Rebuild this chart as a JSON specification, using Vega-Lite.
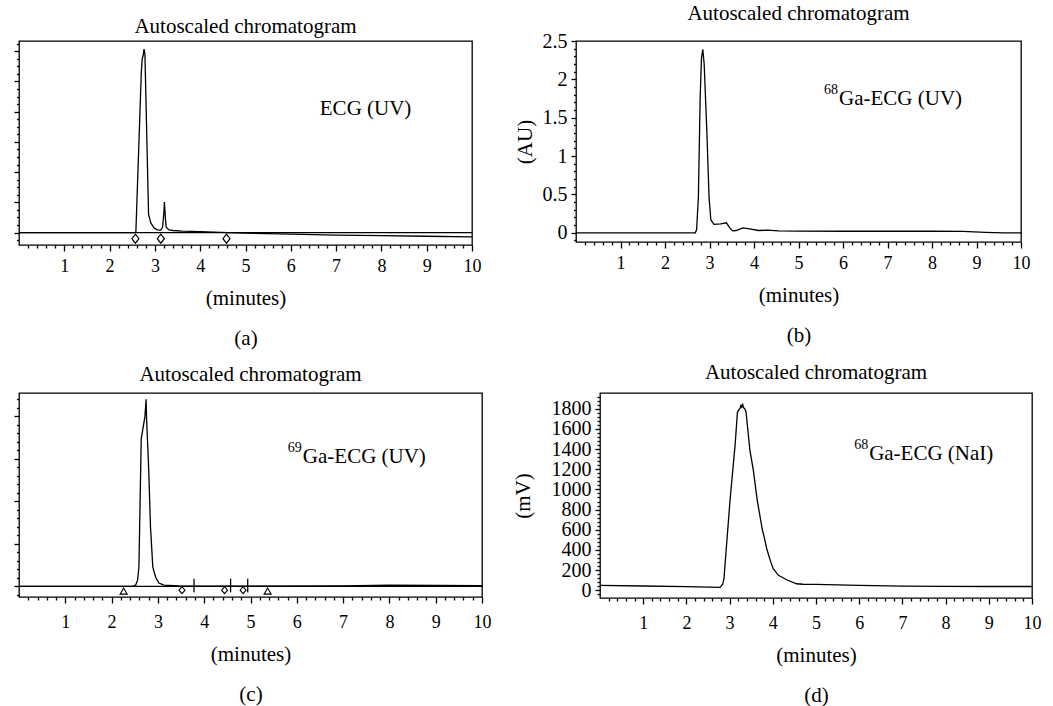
{
  "$schema": "https://vega.github.io/schema/vega-lite/v6.json",
  "background": "white",
  "padding": {"left": 12, "top": 2, "right": 0, "bottom": 0},
  "config": {
    "font": "Liberation Serif",
    "view": {"stroke": "black", "strokeWidth": 1.3},
    "axis": {
      "labelFont": "Liberation Serif", "labelFontSize": 18, "labelColor": "black",
      "titleFont": "Liberation Serif", "titleFontSize": 21, "titleFontWeight": "normal", "titleColor": "black",
      "titleLineHeight": 40,
      "tickColor": "black", "tickWidth": 1.3, "domain": false, "grid": false,
      "labelPadding": 6, "labelFlush": false, "labelOverlap": false, "titlePadding": 12
    },
    "title": {"font": "Liberation Serif", "fontSize": 21, "fontWeight": "normal", "color": "black", "offset": 8},
    "text": {"font": "Liberation Serif", "color": "black"}
  },
  "datasets": {
    "a": [
      {"t": 0, "v": 0}, {"t": 2.55, "v": 0}, {"t": 2.58, "v": 0.02}, {"t": 2.70, "v": 5.3}, {"t": 2.72, "v": 5.75},
      {"t": 2.74, "v": 5.85}, {"t": 2.76, "v": 6.07}, {"t": 2.78, "v": 5.9}, {"t": 2.86, "v": 0.6}, {"t": 2.91, "v": 0.32},
      {"t": 2.98, "v": 0.16}, {"t": 3.05, "v": 0.09}, {"t": 3.13, "v": 0.08}, {"t": 3.17, "v": 0.18}, {"t": 3.20, "v": 0.7},
      {"t": 3.21, "v": 1.01}, {"t": 3.23, "v": 0.5}, {"t": 3.25, "v": 0.18}, {"t": 3.31, "v": 0.09}, {"t": 3.4, "v": 0.07},
      {"t": 3.6, "v": 0.05}, {"t": 4.0, "v": 0.03}, {"t": 4.6, "v": 0.0}, {"t": 5, "v": -0.02}, {"t": 6, "v": -0.05},
      {"t": 7, "v": -0.08}, {"t": 8, "v": -0.1}, {"t": 9, "v": -0.12}, {"t": 10, "v": -0.14}
    ],
    "a_marks": [{"t": 2.57, "v": -0.2}, {"t": 3.13, "v": -0.2}, {"t": 4.58, "v": -0.2}],
    "b": [
      {"t": 0, "v": 0}, {"t": 2.68, "v": 0}, {"t": 2.71, "v": 0.04}, {"t": 2.75, "v": 0.46}, {"t": 2.79, "v": 1.76},
      {"t": 2.82, "v": 2.28}, {"t": 2.85, "v": 2.39}, {"t": 2.88, "v": 2.2}, {"t": 2.94, "v": 1.33}, {"t": 2.99, "v": 0.46},
      {"t": 3.03, "v": 0.17}, {"t": 3.1, "v": 0.11}, {"t": 3.25, "v": 0.115}, {"t": 3.38, "v": 0.13}, {"t": 3.46, "v": 0.06},
      {"t": 3.52, "v": 0.025}, {"t": 3.6, "v": 0.03}, {"t": 3.75, "v": 0.065}, {"t": 3.9, "v": 0.05}, {"t": 4.1, "v": 0.03},
      {"t": 4.3, "v": 0.035}, {"t": 4.55, "v": 0.025}, {"t": 5, "v": 0.022}, {"t": 6, "v": 0.02}, {"t": 7, "v": 0.02},
      {"t": 8, "v": 0.02}, {"t": 8.7, "v": 0.018}, {"t": 9.2, "v": 0.006}, {"t": 9.6, "v": 0}, {"t": 10, "v": 0}
    ],
    "c": [
      {"t": 0, "v": 0}, {"t": 2.45, "v": 0}, {"t": 2.52, "v": 0.03}, {"t": 2.56, "v": 0.14}, {"t": 2.59, "v": 0.45},
      {"t": 2.64, "v": 3.47}, {"t": 2.72, "v": 4.0}, {"t": 2.745, "v": 4.4}, {"t": 2.755, "v": 3.95}, {"t": 2.8, "v": 2.8},
      {"t": 2.84, "v": 1.4}, {"t": 2.89, "v": 0.45}, {"t": 2.95, "v": 0.22}, {"t": 3.02, "v": 0.08}, {"t": 3.13, "v": 0.03},
      {"t": 3.45, "v": 0.01}, {"t": 5, "v": 0.005}, {"t": 7, "v": 0.01}, {"t": 8, "v": 0.03}, {"t": 9, "v": 0.025}, {"t": 10, "v": 0.02}
    ],
    "c_tri": [{"t": 2.26, "v": -0.11}, {"t": 5.37, "v": -0.11}],
    "c_dia": [{"t": 3.52, "v": -0.09}, {"t": 4.44, "v": -0.09}, {"t": 4.84, "v": -0.09}],
    "c_bar": [{"t": 3.78, "v": 0.18, "v2": -0.14}, {"t": 4.57, "v": 0.18, "v2": -0.14}, {"t": 4.94, "v": 0.18, "v2": -0.14}],
    "d": [
      {"t": 0, "v": 50}, {"t": 1, "v": 43}, {"t": 2, "v": 36}, {"t": 2.78, "v": 30}, {"t": 2.84, "v": 60},
      {"t": 2.87, "v": 115}, {"t": 2.89, "v": 231}, {"t": 3.01, "v": 892}, {"t": 3.13, "v": 1453}, {"t": 3.18, "v": 1760},
      {"t": 3.21, "v": 1790}, {"t": 3.24, "v": 1800}, {"t": 3.26, "v": 1830}, {"t": 3.28, "v": 1815}, {"t": 3.30, "v": 1850},
      {"t": 3.32, "v": 1810}, {"t": 3.35, "v": 1800}, {"t": 3.38, "v": 1770}, {"t": 3.47, "v": 1387}, {"t": 3.55, "v": 1189},
      {"t": 3.64, "v": 892}, {"t": 3.76, "v": 595}, {"t": 3.8, "v": 530}, {"t": 3.86, "v": 412}, {"t": 3.94, "v": 297},
      {"t": 4.01, "v": 214}, {"t": 4.13, "v": 149}, {"t": 4.32, "v": 105}, {"t": 4.55, "v": 65}, {"t": 4.7, "v": 60},
      {"t": 5, "v": 58}, {"t": 6, "v": 50}, {"t": 7, "v": 42}, {"t": 8, "v": 39}, {"t": 9, "v": 38}, {"t": 10, "v": 38}
    ]
  },
  "spacing": 12,
  "vconcat": [
    {
      "spacing": 31,
      "hconcat": [
        {
          "width": 453, "height": 204,
          "title": {"text": "Autoscaled chromatogram", "offset": 4},
          "resolve": {"axis": {"x": "independent", "y": "independent"}},
          "layer": [
            {
              "data": {"name": "a"},
              "mark": {"type": "line", "color": "black", "strokeWidth": 1.3},
              "encoding": {
                "x": {"field": "t", "type": "quantitative", "scale": {"domain": [0, 10], "nice": false, "zero": false},
                  "axis": {"orient": "bottom", "values": [1,2,3,4,5,6,7,8,9,10], "tickSize": 6, "title": ["(minutes)", "(a)"]}},
                "y": {"field": "v", "type": "quantitative", "scale": {"domain": [-0.41, 6.34], "nice": false, "zero": false},
                  "axis": {"orient": "left", "values": [0,1,2,3,4,5,6], "tickSize": 5, "labels": false, "title": null}}
              }
            },
            {
              "data": {"name": "a"},
              "mark": {"type": "point", "opacity": 0},
              "encoding": {
                "x": {"field": "t", "type": "quantitative", "axis": {"orient": "bottom", "values": [0.2,0.4,0.6,0.8,1.2,1.4,1.6,1.8,2.2,2.4,2.6,2.8,3.2,3.4,3.6,3.8,4.2,4.4,4.6,4.8,5.2,5.4,5.6,5.8,6.2,6.4,6.6,6.8,7.2,7.4,7.6,7.8,8.2,8.4,8.6,8.8,9.2,9.4,9.6,9.8], "tickSize": 3, "labels": false, "title": null}},
                "y": {"field": "v", "type": "quantitative", "axis": {"orient": "left", "values": [-0.25,0.25,0.5,0.75,1.25,1.5,1.75,2.25,2.5,2.75,3.25,3.5,3.75,4.25,4.5,4.75,5.25,5.5,5.75,6.25], "tickSize": 2.5, "labels": false, "title": null}}
              }
            },
            {
              "data": {"values": [{"b": 0}]},
              "mark": {"type": "rule", "color": "black", "strokeWidth": 1.3},
              "encoding": {"y": {"field": "b", "type": "quantitative", "axis": null}}
            },
            {
              "data": {"name": "a_marks"},
              "mark": {"type": "point", "shape": "M0,-1L0.78,0L0,1L-0.78,0Z", "size": 81, "filled": true, "fill": "white", "stroke": "black", "strokeWidth": 1.2, "opacity": 1},
              "encoding": {"x": {"field": "t", "type": "quantitative", "axis": null}, "y": {"field": "v", "type": "quantitative", "axis": null}}
            },
            {
              "data": {"values": [{"s": "ECG (UV)"}]},
              "mark": {"type": "text", "align": "left", "baseline": "middle", "fontSize": 21},
              "encoding": {"x": {"datum": 6.64, "type": "quantitative", "axis": null}, "y": {"datum": 4.09, "type": "quantitative", "axis": null}, "text": {"field": "s"}}
            }
          ]
        },
        {
          "width": 445, "height": 201,
          "title": {"text": "Autoscaled chromatogram", "offset": 7},
          "resolve": {"axis": {"x": "independent", "y": "independent"}},
          "layer": [
            {
              "data": {"name": "b"},
              "mark": {"type": "line", "color": "black", "strokeWidth": 1.3},
              "encoding": {
                "x": {"field": "t", "type": "quantitative", "scale": {"domain": [0, 10], "nice": false, "zero": false},
                  "axis": {"orient": "bottom", "values": [1,2,3,4,5,6,7,8,9,10], "tickSize": 6, "title": ["(minutes)", "(b)"]}},
                "y": {"field": "v", "type": "quantitative", "scale": {"domain": [-0.12, 2.5], "nice": false, "zero": false},
                  "axis": {"orient": "left", "values": [0,0.5,1,1.5,2,2.5], "format": "~g", "tickSize": 5, "labelPadding": 4, "labelFontSize": 20, "title": "(AU)", "titlePadding": 7}}
              }
            },
            {
              "data": {"name": "b"},
              "mark": {"type": "point", "opacity": 0},
              "encoding": {
                "x": {"field": "t", "type": "quantitative", "axis": {"orient": "bottom", "values": [0.2,0.4,0.6,0.8,1.2,1.4,1.6,1.8,2.2,2.4,2.6,2.8,3.2,3.4,3.6,3.8,4.2,4.4,4.6,4.8,5.2,5.4,5.6,5.8,6.2,6.4,6.6,6.8,7.2,7.4,7.6,7.8,8.2,8.4,8.6,8.8,9.2,9.4,9.6,9.8], "tickSize": 3, "labels": false, "title": null}},
                "y": {"field": "v", "type": "quantitative", "axis": {"orient": "left", "values": [-0.1,0.1,0.2,0.3,0.4,0.6,0.7,0.8,0.9,1.1,1.2,1.3,1.4,1.6,1.7,1.8,1.9,2.1,2.2,2.3,2.4], "tickSize": 2.5, "labels": false, "title": null}}
              }
            },
            {
              "data": {"values": [{"s": "Ga-ECG (UV)"}]},
              "mark": {"type": "text", "align": "left", "baseline": "middle", "fontSize": 21},
              "encoding": {"x": {"datum": 5.91, "type": "quantitative", "axis": null}, "y": {"datum": 1.74, "type": "quantitative", "axis": null}, "text": {"field": "s"}}
            },
            {
              "data": {"values": [{"s": "68"}]},
              "mark": {"type": "text", "align": "right", "baseline": "middle", "fontSize": 14, "dx": -1, "dy": -9},
              "encoding": {"x": {"datum": 5.91, "type": "quantitative", "axis": null}, "y": {"datum": 1.74, "type": "quantitative", "axis": null}, "text": {"field": "s"}}
            }
          ]
        }
      ]
    },
    {
      "spacing": 19,
      "hconcat": [
        {
          "width": 463, "height": 204,
          "title": {"text": "Autoscaled chromatogram", "offset": 8},
          "resolve": {"axis": {"x": "independent", "y": "independent"}},
          "layer": [
            {
              "data": {"name": "c"},
              "mark": {"type": "line", "color": "black", "strokeWidth": 1.3},
              "encoding": {
                "x": {"field": "t", "type": "quantitative", "scale": {"domain": [0, 10], "nice": false, "zero": false},
                  "axis": {"orient": "bottom", "values": [1,2,3,4,5,6,7,8,9,10], "tickSize": 6, "labelPadding": 10, "title": ["(minutes)", "(c)"]}},
                "y": {"field": "v", "type": "quantitative", "scale": {"domain": [-0.25, 4.55], "nice": false, "zero": false},
                  "axis": {"orient": "left", "values": [0,1,2,3,4], "tickSize": 5, "labels": false, "title": null}}
              }
            },
            {
              "data": {"name": "c"},
              "mark": {"type": "point", "opacity": 0},
              "encoding": {
                "x": {"field": "t", "type": "quantitative", "axis": {"orient": "bottom", "values": [0.2,0.4,0.6,0.8,1.2,1.4,1.6,1.8,2.2,2.4,2.6,2.8,3.2,3.4,3.6,3.8,4.2,4.4,4.6,4.8,5.2,5.4,5.6,5.8,6.2,6.4,6.6,6.8,7.2,7.4,7.6,7.8,8.2,8.4,8.6,8.8,9.2,9.4,9.6,9.8], "tickSize": 3, "labels": false, "title": null}},
                "y": {"field": "v", "type": "quantitative", "axis": {"orient": "left", "values": [-0.2,0.2,0.4,0.6,0.8,1.2,1.4,1.6,1.8,2.2,2.4,2.6,2.8,3.2,3.4,3.6,3.8,4.2,4.4], "tickSize": 2.5, "labels": false, "title": null}}
              }
            },
            {
              "data": {"values": [{"b": 0}]},
              "mark": {"type": "rule", "color": "black", "strokeWidth": 1.3},
              "encoding": {"y": {"field": "b", "type": "quantitative", "axis": null}}
            },
            {
              "data": {"name": "c_bar"},
              "mark": {"type": "rule", "color": "black", "strokeWidth": 1.3},
              "encoding": {"x": {"field": "t", "type": "quantitative", "axis": null}, "y": {"field": "v", "type": "quantitative", "axis": null}, "y2": {"field": "v2"}}
            },
            {
              "data": {"name": "c_tri"},
              "mark": {"type": "point", "shape": "triangle-up", "size": 50, "filled": true, "fill": "white", "stroke": "black", "strokeWidth": 1.1, "opacity": 1},
              "encoding": {"x": {"field": "t", "type": "quantitative", "axis": null}, "y": {"field": "v", "type": "quantitative", "axis": null}}
            },
            {
              "data": {"name": "c_dia"},
              "mark": {"type": "point", "shape": "M0,-1L0.85,0L0,1L-0.85,0Z", "size": 49, "filled": true, "fill": "white", "stroke": "black", "strokeWidth": 1.1, "opacity": 1},
              "encoding": {"x": {"field": "t", "type": "quantitative", "axis": null}, "y": {"field": "v", "type": "quantitative", "axis": null}}
            },
            {
              "data": {"values": [{"s": "Ga-ECG (UV)"}]},
              "mark": {"type": "text", "align": "left", "baseline": "middle", "fontSize": 21},
              "encoding": {"x": {"datum": 6.13, "type": "quantitative", "axis": null}, "y": {"datum": 3.04, "type": "quantitative", "axis": null}, "text": {"field": "s"}}
            },
            {
              "data": {"values": [{"s": "69"}]},
              "mark": {"type": "text", "align": "right", "baseline": "middle", "fontSize": 14, "dx": -1, "dy": -9},
              "encoding": {"x": {"datum": 6.13, "type": "quantitative", "axis": null}, "y": {"datum": 3.04, "type": "quantitative", "axis": null}, "text": {"field": "s"}}
            }
          ]
        },
        {
          "width": 432, "height": 205,
          "title": {"text": "Autoscaled chromatogram", "offset": 10},
          "resolve": {"axis": {"x": "independent", "y": "independent"}},
          "layer": [
            {
              "data": {"name": "d"},
              "mark": {"type": "line", "color": "black", "strokeWidth": 1.3},
              "encoding": {
                "x": {"field": "t", "type": "quantitative", "scale": {"domain": [0, 10], "nice": false, "zero": false},
                  "axis": {"orient": "bottom", "values": [1,2,3,4,5,6,7,8,9,10], "tickSize": 6, "labelPadding": 10, "title": ["(minutes)", "(d)"]}},
                "y": {"field": "v", "type": "quantitative", "scale": {"domain": [-76, 1955], "nice": false, "zero": false},
                  "axis": {"orient": "left", "values": [0,200,400,600,800,1000,1200,1400,1600,1800], "format": "d", "tickSize": 5, "labelPadding": 4, "labelFontSize": 20, "title": "(mV)", "titlePadding": 18}}
              }
            },
            {
              "data": {"name": "d"},
              "mark": {"type": "point", "opacity": 0},
              "encoding": {
                "x": {"field": "t", "type": "quantitative", "axis": {"orient": "bottom", "values": [0.2,0.4,0.6,0.8,1.2,1.4,1.6,1.8,2.2,2.4,2.6,2.8,3.2,3.4,3.6,3.8,4.2,4.4,4.6,4.8,5.2,5.4,5.6,5.8,6.2,6.4,6.6,6.8,7.2,7.4,7.6,7.8,8.2,8.4,8.6,8.8,9.2,9.4,9.6,9.8], "tickSize": 3, "labels": false, "title": null}},
                "y": {"field": "v", "type": "quantitative", "axis": {"orient": "left", "values": [-40,40,80,120,160,240,280,320,360,440,480,520,560,640,680,720,760,840,880,920,960,1040,1080,1120,1160,1240,1280,1320,1360,1440,1480,1520,1560,1640,1680,1720,1760,1840,1880,1920], "tickSize": 3, "labels": false, "title": null}}
              }
            },
            {
              "data": {"values": [{"s": "Ga-ECG (NaI)"}]},
              "mark": {"type": "text", "align": "left", "baseline": "middle", "fontSize": 21},
              "encoding": {"x": {"datum": 6.23, "type": "quantitative", "axis": null}, "y": {"datum": 1348, "type": "quantitative", "axis": null}, "text": {"field": "s"}}
            },
            {
              "data": {"values": [{"s": "68"}]},
              "mark": {"type": "text", "align": "right", "baseline": "middle", "fontSize": 14, "dx": -1, "dy": -9},
              "encoding": {"x": {"datum": 6.23, "type": "quantitative", "axis": null}, "y": {"datum": 1348, "type": "quantitative", "axis": null}, "text": {"field": "s"}}
            }
          ]
        }
      ]
    }
  ]
}
